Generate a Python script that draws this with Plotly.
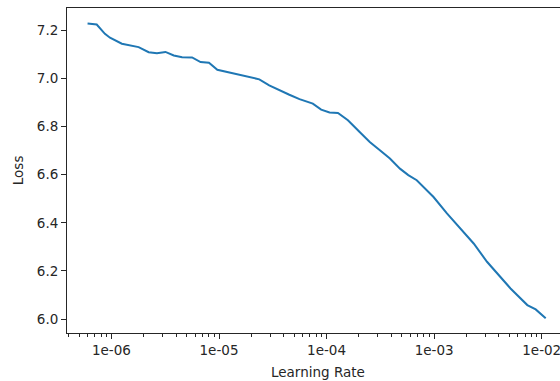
import plotly.graph_objects as go

# Data (learning-rate finder curve)
learning_rate = [
    6.0e-7, 7.3e-7, 8.7e-7, 9.7e-7, 1.25e-6, 1.50e-6, 1.79e-6, 2.22e-6, 2.65e-6,
    3.18e-6, 3.80e-6, 4.54e-6, 5.62e-6, 6.74e-6, 8.07e-6, 9.65e-6, 1.156e-5,
    1.54e-5, 1.78e-5, 2.37e-5, 2.93e-5, 3.64e-5, 4.51e-5, 5.60e-5, 7.45e-5,
    8.91e-5, 1.066e-4, 1.276e-4, 1.58e-4, 2.03e-4, 2.52e-4, 3.13e-4, 3.88e-4,
    4.81e-4, 5.75e-4, 6.89e-4, 9.87e-4, 1.315e-3, 1.75e-3, 2.33e-3, 3.10e-3,
    3.85e-3, 5.13e-3, 7.35e-3, 8.79e-3, 1.089e-2,
]
loss = [
    7.228, 7.224, 7.185, 7.169, 7.144, 7.137, 7.130, 7.109, 7.105,
    7.110, 7.095, 7.088, 7.087, 7.068, 7.065, 7.036, 7.028,
    7.017, 7.008, 6.996, 6.971, 6.950, 6.932, 6.914, 6.895,
    6.870, 6.858, 6.856, 6.826, 6.777, 6.736, 6.701, 6.667,
    6.625, 6.598, 6.577, 6.507, 6.439, 6.376, 6.314, 6.238,
    6.190, 6.127, 6.058, 6.040, 6.003,
]
x_tick_values = [1e-6, 1e-5, 1e-4, 1e-3, 1e-2]
x_tick_labels = ["1e-06", "1e-05", "1e-04", "1e-03", "1e-02"]
y_tick_values = [6.0, 6.2, 6.4, 6.6, 6.8, 7.0, 7.2]

FONT = "DejaVu Sans"
TXT = "#262626"
AX = "#262626"

fig = go.Figure()
fig.add_trace(go.Scatter(
    x=learning_rate, y=loss, mode="lines",
    line=dict(color="#1f77b4", width=2),
    hoverinfo="skip", showlegend=False,
))

fig.update_layout(
    width=560, height=381,
    margin=dict(l=67, r=0, t=8, b=48),
    paper_bgcolor="white", plot_bgcolor="white",
    font=dict(family=FONT, size=13.5, color=TXT),
    xaxis=dict(
        type="log", range=[-6.413, -1.830],
        tickmode="array", tickvals=x_tick_values, ticktext=x_tick_labels,
        ticks="outside", ticklen=5, tickwidth=1, tickcolor=AX,
        ticklabeloverflow="allow",
        minor=dict(ticks="outside", ticklen=3, tickwidth=1, tickcolor=AX, dtick="D1", showgrid=False),
        showline=True, linecolor=AX, linewidth=1, mirror=True,
        showgrid=False, zeroline=False,
        tickfont=dict(family=FONT, size=13.5, color=TXT),
    ),
    yaxis=dict(
        range=[5.942, 7.2925],
        tickmode="array", tickvals=y_tick_values, tickformat=".1f",
        ticks="outside", ticklen=5, tickwidth=1, tickcolor=AX,
        showline=True, linecolor=AX, linewidth=1, mirror=False,
        showgrid=False, zeroline=False,
        tickfont=dict(family=FONT, size=13.5, color=TXT),
    ),
    annotations=[
        dict(text="Learning Rate", xref="paper", yref="paper", x=0.51, y=-0.12,
             xanchor="center", yanchor="middle", showarrow=False,
             font=dict(family=FONT, size=13.5, color=TXT)),
        dict(text="Loss", xref="paper", yref="paper", x=-0.1, y=0.5,
             xanchor="center", yanchor="middle", showarrow=False, textangle=-90,
             font=dict(family=FONT, size=13.5, color=TXT)),
    ],
)

fig.write_html(
    "out.html",
    config={"displayModeBar": False},
    post_script="document.body.style.margin='0';document.body.style.overflow='hidden';",
)
